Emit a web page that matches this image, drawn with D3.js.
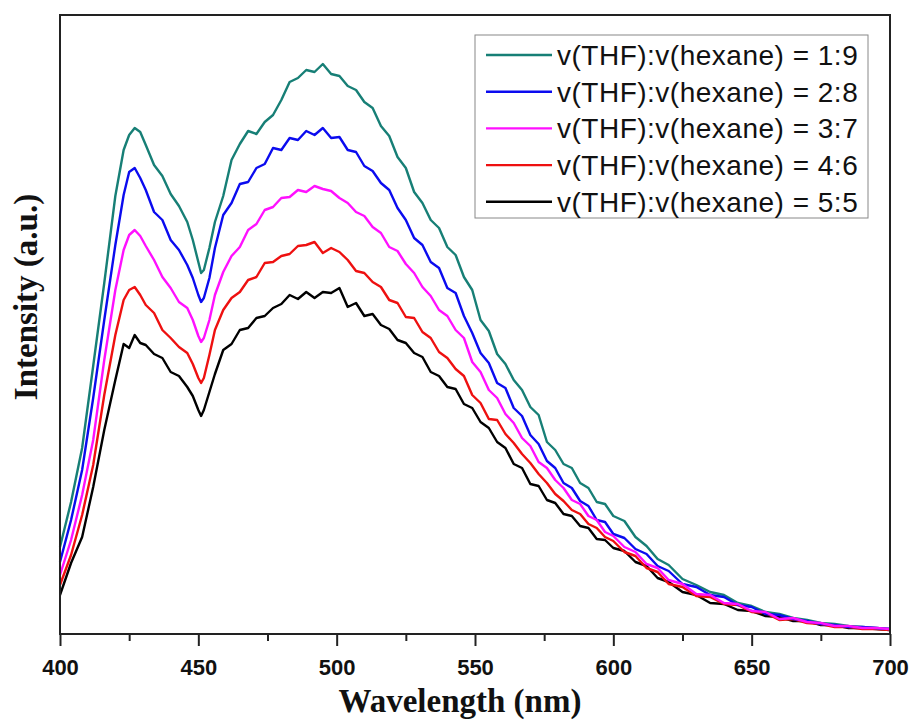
<!DOCTYPE html>
<html>
<head>
<meta charset="utf-8">
<script src="https://cdn.jsdelivr.net/npm/d3@7"></script>
<style>
  body { margin: 0; background: #fff; }
  .axis text { font-family: "Liberation Sans", Arial, sans-serif; font-weight: bold; font-size: 22px; fill: #111; }
  .axis line { stroke: #222; stroke-width: 2px; }
  .axis .domain { display: none; }
  .line { fill: none; stroke-width: 2.4px; stroke-linejoin: round; }
  .title { font-family: "Liberation Serif", "Times New Roman", serif; font-weight: bold; font-size: 33px; fill: #111; }
  .legend text { font-family: "Liberation Sans", Arial, sans-serif; font-size: 28px; letter-spacing: 0.5px; fill: #111; }
</style>
</head>
<body>
<svg></svg>
<script>
var width = 916,
    height = 720;

// wavelengths (nm), shared by every spectrum
var wavelength = [400,404,408,412,416,420,423,425,427,429,431,434,437,440,443,446,448,450,451,452,
  454,456,459,462,465,468,471,474,477,480,483,486,489,492,495,498,501,504,507,510,
  513,516,519,522,525,528,531,534,537,540,543,546,549,552,555,558,561,564,567,570,
  573,576,579,582,585,588,591,594,597,600,604,608,612,616,620,625,630,635,640,645,
  650,655,660,665,670,675,680,685,690,695,700];

// intensities (a.u.)
var ratio19 = [87,132,186,268,351,438,484,499,506,502, 489,469,458,440,428,412,394,372,361,364,
  386,412,438,474,490,503,500,512,519,534, 552,556,564,562,570,560,558,548,544,532,
  526,508,498,477,466,442,431,414,406,387, 379,357,344,314,303,280,270,254,244,227,
  219,192,184,170,166,151,146,132,130,118, 113,97,88,75,69,55,49,42,39,31,
  28,22,20,16,14,11,10,8,7,6, 5];
var ratio28 = [72,114,164,236,314,389,439,462,466,456, 444,422,414,394,384,369,356,339,332,336,
  356,386,419,431,450,452,466,470,486,484, 496,494,503,499,506,496,497,484,482,468,
  463,451,444,426,414,396,389,372,366,346, 341,318,301,281,271,251,246,226,218,199,
  190,173,166,151,146,133,128,114,112,100, 96,85,80,68,63,50,47,39,37,29,
  27,20,19,15,13,10,9,7,7,6, 5];
var ratio37 = [59,94,139,194,274,344,384,399,404,398, 388,374,357,346,332,326,314,298,292,296,
  314,339,362,378,387,404,410,424,427,436, 437,444,442,448,445,443,436,431,422,418,
  407,401,387,383,370,361,347,338,324,318, 304,296,272,262,244,236,220,211,196,188,
  172,166,154,146,134,130,118,114,102,98, 87,82,70,66,54,50,40,39,31,30,
  23,22,15,16,12,11,8,8,6,6, 5];
var ratio46 = [49,79,119,169,239,299,334,344,347,339, 329,321,304,296,287,281,270,256,251,256,
  279,304,324,336,342,354,357,371,372,378, 380,388,389,392,381,386,382,374,363,361,
  352,347,334,331,317,316,302,296,282,276, 265,258,239,231,215,214,200,191,180,171,
  160,151,140,133,124,120,110,106,97,93, 82,78,66,62,50,47,38,37,30,29,
  22,21,14,15,11,10,7,7,5,5, 4];
var ratio55 = [39,71,97,147,204,254,290,286,299,291, 289,280,276,262,258,247,238,224,218,224,
  242,260,284,290,304,306,316,318,326,330, 339,335,342,336,342,341,346,327,331,318,
  320,309,305,294,291,281,277,262,258,247, 245,230,226,212,206,192,186,170,166,150,
  148,134,131,120,118,108,106,95,94,86, 83,72,68,56,52,42,39,31,30,24,
  23,18,17,13,13,9,9,6,6,5, 4];

var seriesNames = ["v(THF):v(hexane) = 1:9", "v(THF):v(hexane) = 2:8", "v(THF):v(hexane) = 3:7",
                   "v(THF):v(hexane) = 4:6", "v(THF):v(hexane) = 5:5"];
var seriesValues = [ratio19, ratio28, ratio37, ratio46, ratio55];
var seriesColors = ["#177f76", "#0b0bef", "#ff10ff", "#ee1010", "#000000"];

var majorTicks = [400, 450, 500, 550, 600, 650, 700],
    minorTicks = [425, 475, 525, 575, 625, 675];

// Scales
var x = d3.scaleLinear().domain([400, 700]).range([60, 890]),
    y = d3.scaleLinear().domain([0, 619]).range([634, 15]);

var line = d3.line()
    .x(function(d) { return x(d[0]); })
    .y(function(d) { return y(d[1]); });

var svg = d3.select("svg")
    .attr("width", width)
    .attr("height", height);

var series = seriesNames.map(function(name, i) {
  return {
    name: name,
    color: seriesColors[i],
    points: wavelength.map(function(w, j) { return [w, seriesValues[i][j]]; })
  };
});

// draw order: black first, magenta on top
var drawOrder = [4, 3, 0, 1, 2];
svg.selectAll(".line")
    .data(drawOrder.map(function(i) { return series[i]; }))
  .enter().append("path")
    .attr("class", "line")
    .style("stroke", function(d) { return d.color; })
    .attr("d", function(d) { return line(d.points); });

// minor and major ticks on the x-axis
svg.append("g")
    .attr("class", "axis")
    .attr("transform", "translate(0,634)")
    .call(d3.axisBottom(x).tickValues(minorTicks).tickSize(7).tickFormat(""));

svg.append("g")
    .attr("class", "axis")
    .attr("transform", "translate(0,634)")
    .call(d3.axisBottom(x).tickValues(majorTicks).tickSize(12).tickPadding(13).tickFormat(d3.format("d")));

// frame
svg.append("rect")
    .attr("x", x(400))
    .attr("y", y(619))
    .attr("width", x(700) - x(400))
    .attr("height", y(0) - y(619))
    .style("fill", "none")
    .style("stroke", "#222")
    .style("stroke-width", 2);

// axis titles
svg.append("text")
    .attr("class", "title")
    .attr("x", 460)
    .attr("y", 712)
    .attr("text-anchor", "middle")
    .text("Wavelength (nm)");

svg.append("text")
    .attr("class", "title")
    .attr("transform", "translate(37,297) rotate(-90)")
    .attr("text-anchor", "middle")
    .text("Intensity (a.u.)");

// legend
var legend = svg.append("g").attr("class", "legend");

legend.append("rect")
    .attr("x", 475)
    .attr("y", 35)
    .attr("width", 393)
    .attr("height", 183)
    .style("fill", "#fff")
    .style("stroke", "#888")
    .style("stroke-width", 1);

var rows = legend.selectAll(".row")
    .data(series)
  .enter().append("g")
    .attr("class", "row")
    .attr("transform", function(d, i) { return "translate(0," + (55 + i * 36.7) + ")"; });

rows.append("line")
    .attr("x1", 486)
    .attr("x2", 552)
    .style("stroke", function(d) { return d.color; })
    .style("stroke-width", 2.4);

rows.append("text")
    .attr("x", 557)
    .attr("y", 10)
    .text(function(d) { return d.name; });
</script>
</body>
</html>
